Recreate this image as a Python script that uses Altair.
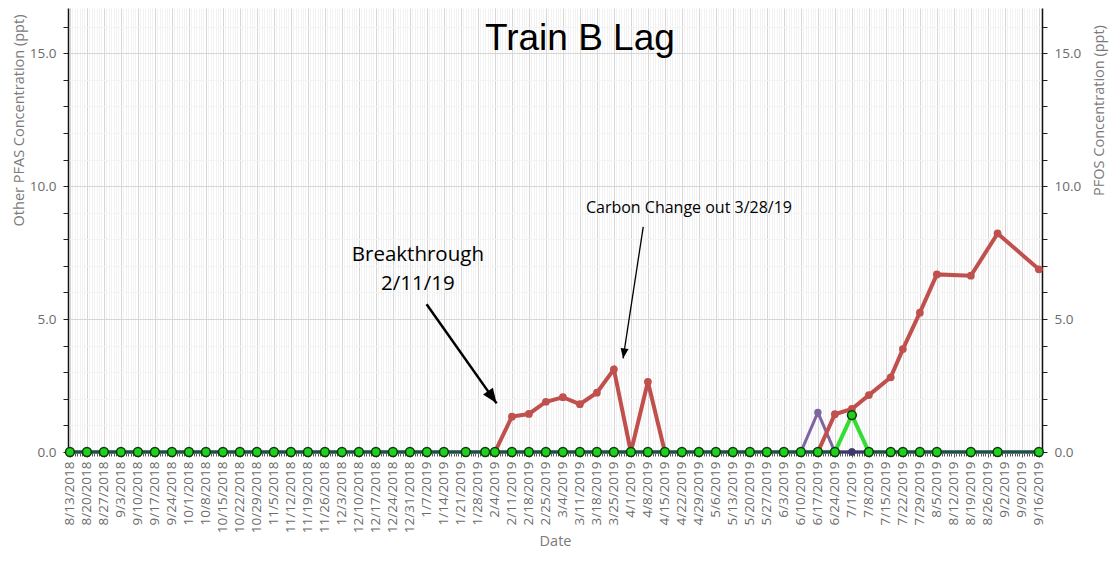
import altair as alt
import pandas as pd

# ---------------- data ----------------
tick_labels = ["8/13/2018", "8/20/2018", "8/27/2018", "9/3/2018", "9/10/2018", "9/17/2018",
               "9/24/2018", "10/1/2018", "10/8/2018", "10/15/2018", "10/22/2018", "10/29/2018",
               "11/5/2018", "11/12/2018", "11/19/2018", "11/26/2018", "12/3/2018", "12/10/2018",
               "12/17/2018", "12/24/2018", "12/31/2018", "1/7/2019", "1/14/2019", "1/21/2019",
               "1/28/2019", "2/4/2019", "2/11/2019", "2/18/2019", "2/25/2019", "3/4/2019",
               "3/11/2019", "3/18/2019", "3/25/2019", "4/1/2019", "4/8/2019", "4/15/2019",
               "4/22/2019", "4/29/2019", "5/6/2019", "5/13/2019", "5/20/2019", "5/27/2019",
               "6/3/2019", "6/10/2019", "6/17/2019", "6/24/2019", "7/1/2019", "7/8/2019",
               "7/15/2019", "7/22/2019", "7/29/2019", "8/5/2019", "8/12/2019", "8/19/2019",
               "8/26/2019", "9/2/2019", "9/9/2019", "9/16/2019"]

sample_dates = ["2018-08-13", "2018-08-20", "2018-08-27", "2018-09-03", "2018-09-10", "2018-09-17",
                "2018-09-24", "2018-10-01", "2018-10-08", "2018-10-15", "2018-10-22", "2018-10-29",
                "2018-11-05", "2018-11-12", "2018-11-19", "2018-11-26", "2018-12-03", "2018-12-10",
                "2018-12-17", "2018-12-24", "2018-12-31", "2019-01-07", "2019-01-14", "2019-01-23",
                "2019-01-31", "2019-02-04", "2019-02-11", "2019-02-18", "2019-02-25", "2019-03-04",
                "2019-03-11", "2019-03-18", "2019-03-25", "2019-04-01", "2019-04-08", "2019-04-15",
                "2019-04-22", "2019-04-29", "2019-05-06", "2019-05-13", "2019-05-20", "2019-05-27",
                "2019-06-03", "2019-06-10", "2019-06-17", "2019-06-24", "2019-07-01", "2019-07-08",
                "2019-07-17", "2019-07-22", "2019-07-29", "2019-08-05", "2019-08-19", "2019-08-30",
                "2019-09-16"]

# Other PFAS (red)
other_pfas_red = [0, 0, 0, 0, 0, 0, 0, 0, 0, 0, 0, 0, 0, 0, 0, 0, 0, 0, 0, 0, 0, 0, 0, 0, 0, 0,
                  1.33, 1.43, 1.89, 2.06, 1.80, 2.23, 3.11, 0, 2.64, 0,
                  0, 0, 0, 0, 0, 0, 0, 0, 0,
                  1.42, 1.62, 2.14, 2.81, 3.87, 5.24, 6.68, 6.63, 8.22, 6.87]
# Other PFAS (purple)
other_pfas_purple = [0, 0, 0, 0, 0, 0, 0, 0, 0, 0, 0, 0, 0, 0, 0, 0, 0, 0, 0, 0, 0, 0, 0, 0, 0, 0,
                     0, 0, 0, 0, 0, 0, 0, 0, 0, 0,
                     0, 0, 0, 0, 0, 0, 0, 0, 1.49,
                     0, 0, 0, 0, 0, 0, 0, 0, 0, 0]
# Other PFAS (dark)
other_pfas_dark = [0, 0, 0, 0, 0, 0, 0, 0, 0, 0, 0, 0, 0, 0, 0, 0, 0, 0, 0, 0, 0, 0, 0, 0, 0, 0,
                   0, 0, 0, 0, 0, 0, 0, 0, 0, 0,
                   0, 0, 0, 0, 0, 0, 0, 0, 0,
                   0, 0, 0, 0, 0, 0, 0, 0, 0, 0]
# PFOS (green)
pfos_green = [0, 0, 0, 0, 0, 0, 0, 0, 0, 0, 0, 0, 0, 0, 0, 0, 0, 0, 0, 0, 0, 0, 0, 0, 0, 0,
              0, 0, 0, 0, 0, 0, 0, 0, 0, 0,
              0, 0, 0, 0, 0, 0, 0, 0, 0,
              0, 1.39, 0, 0, 0, 0, 0, 0, 0, 0]

y_tick_values = [0, 1, 2, 3, 4, 5, 6, 7, 8, 9, 10, 11, 12, 13, 14, 15, 16]

# title and annotations (in data units)
title_text = ["Train B Lag"]
title_date = ["2019-03-11T00:00:00"]
title_value = [15.11]

note_text = ["Breakthrough\n2/11/19", "Carbon Change out 3/28/19"]
note_date = ["2019-01-03T07:00:00", "2019-04-24T22:00:00"]
note_value = [7.18, 8.98]

arrow_start_date = ["2019-01-06T21:00:00", "2019-04-06T02:00:00"]
arrow_start_value = [5.56, 8.47]
arrow_end_date = ["2019-02-04T17:00:00", "2019-03-28T19:00:00"]
arrow_end_value = [1.83, 3.52]
arrow_angle = [144.8, 188.6]

# ---------------- build ----------------
dates = pd.to_datetime(sample_dates)


def sdf(vals):
    return pd.DataFrame({"date": dates, "value": vals})


def to_dt(label):
    m, d, y = [int(p) for p in label.split("/")]
    return alt.DateTime(year=y, month=m, date=d)


label_values = [to_dt(t) for t in tick_labels]

x_scale = alt.Scale(domain=[alt.DateTime(year=2018, month=8, date=12, hours=5),
                            alt.DateTime(year=2019, month=9, date=17, hours=7)])
y_scale = alt.Scale(domain=[0, 16.7], nice=False, zero=False)

LABEL_C = "#6b6b6b"
TITLE_C = "#7a7a7a"
FONT = "Open Sans"

minor_x_axis = alt.Axis(orient="bottom", tickCount={"interval": "day", "step": 1},
                        labels=False, domain=False, ticks=True, tickSize=4, tickColor="#555555",
                        tickWidth=1, grid=True, gridColor="#f2f2f2", gridWidth=1, title=None)

major_x_axis = alt.Axis(orient="bottom", values=label_values, format="%-m/%-d/%Y",
                        formatType="time", labelAngle=270, labelOverlap=False, labelBound=False,
                        labelFlush=False, labelFont=FONT, labelFontSize=13.5, labelColor=LABEL_C,
                        labelPadding=4, tickSize=5, tickColor="#555555", domain=False,
                        grid=True, gridColor="#d6d6d6", gridWidth=1,
                        title="Date", titleFont=FONT, titleFontSize=14.5, titleFontWeight="normal",
                        titleColor=TITLE_C, titleY=89, titleBaseline="middle")

label_expr = "datum.value % 5 === 0 ? format(datum.value, '.1f') : ''"

left_axis = alt.Axis(orient="left", values=y_tick_values, labelExpr=label_expr,
                     labelFont=FONT, labelFontSize=13.5, labelColor=LABEL_C, labelPadding=7,
                     tickSize=5, tickColor="#222222", domainColor="#111111", domainWidth=1.5,
                     grid=True,
                     gridColor={"condition": {"test": "datum.value % 5 === 0", "value": "#d6d6d6"},
                                "value": "#f3f3f3"},
                     title="Other PFAS Concentration (ppt)", titleFont=FONT, titleFontSize=14.5,
                     titleFontWeight="normal", titleColor=TITLE_C, titleAngle=270,
                     titleX=-49, titleY=112, titleAlign="center", titleBaseline="middle")

right_axis = alt.Axis(orient="right", values=y_tick_values, labelExpr=label_expr,
                      labelFont=FONT, labelFontSize=13.5, labelColor=LABEL_C, labelPadding=7,
                      tickSize=5, tickColor="#222222", domainColor="#111111", domainWidth=1.5,
                      grid=False,
                      title="PFOS Concentration (ppt)", titleFont=FONT, titleFontSize=14.5,
                      titleFontWeight="normal", titleColor=TITLE_C, titleAngle=270,
                      titleX=57, titleY=102, titleAlign="center", titleBaseline="middle")

RED = "#c0504d"
PURPLE = "#8064a2"
DARK = "#3d3a6a"
GREEN = "#33dd33"


def xy(xaxis=None, yaxis=None):
    return dict(x=alt.X("date:T", scale=x_scale, axis=xaxis),
                y=alt.Y("value:Q", scale=y_scale, axis=yaxis))


purple_line = alt.Chart(sdf(other_pfas_purple)).mark_line(color=PURPLE, strokeWidth=3).encode(
    **xy(minor_x_axis, left_axis))
purple_pts = alt.Chart(sdf(other_pfas_purple)).mark_point(
    filled=True, color=PURPLE, size=55, opacity=1).encode(**xy())

red_line = alt.Chart(sdf(other_pfas_red)).mark_line(color=RED, strokeWidth=4).encode(
    **xy(major_x_axis, None))
red_pts = alt.Chart(sdf(other_pfas_red)).mark_point(
    filled=True, color=RED, size=60, opacity=1).encode(**xy())

dark_line = alt.Chart(sdf(other_pfas_dark)).mark_line(color=DARK, strokeWidth=3).encode(**xy())
dark_pts = alt.Chart(sdf(other_pfas_dark)).mark_point(
    filled=True, color=DARK, size=55, opacity=1).encode(**xy())

green_line = alt.Chart(sdf(pfos_green)).mark_line(color=GREEN, strokeWidth=4).encode(
    **xy(None, right_axis))
green_pts = alt.Chart(sdf(pfos_green)).mark_point(
    filled=True, fill="#1fd01f", stroke="#0b3b0b", strokeWidth=1.5, size=78, opacity=1
).encode(**xy())

titles = pd.DataFrame({"date": pd.to_datetime(title_date), "value": title_value,
                       "text": title_text})
notes = pd.DataFrame({"date": pd.to_datetime(note_date), "value": note_value, "text": note_text})
arrows = pd.DataFrame({"date": pd.to_datetime(arrow_start_date), "value": arrow_start_value,
                       "date2": pd.to_datetime(arrow_end_date), "value2": arrow_end_value,
                       "angle": arrow_angle, "which": ["big", "small"]})

arrow_lines = alt.Chart(arrows).mark_rule(color="black").encode(
    x=alt.X("date:T", scale=x_scale, axis=None),
    y=alt.Y("value:Q", scale=y_scale, axis=None),
    x2="date2:T", y2="value2:Q",
    strokeWidth=alt.StrokeWidth("which:N", scale=alt.Scale(domain=["big", "small"], range=[2.5, 1.3]),
                                legend=None))

arrow_heads = alt.Chart(arrows).mark_point(
    shape="M0,0L0.8,2L-0.8,2Z", filled=True, color="black", opacity=1).encode(
    x=alt.X("date2:T", scale=x_scale, axis=None),
    y=alt.Y("value2:Q", scale=y_scale, axis=None),
    angle=alt.Angle("angle:Q", scale=None),
    size=alt.Size("which:N", scale=alt.Scale(domain=["big", "small"], range=[225, 100]), legend=None))

title_mark = alt.Chart(titles).mark_text(
    font="Liberation Sans", fontSize=37, color="black", align="center",
    baseline="alphabetic").encode(text="text:N", **xy())
note1 = alt.Chart(notes.iloc[[0]]).mark_text(
    font=FONT, fontSize=20.5, color="black", align="center", baseline="alphabetic",
    lineBreak="\n", lineHeight=29).encode(text="text:N", **xy())
note2 = alt.Chart(notes.iloc[[1]]).mark_text(
    font=FONT, fontSize=16, color="black", align="center", baseline="alphabetic").encode(
    text="text:N", **xy())

chart = alt.layer(
    purple_line, red_line, green_line,
    purple_pts, red_pts, dark_line, dark_pts, green_pts,
    arrow_lines, arrow_heads, title_mark, note1, note2
).resolve_axis(x="independent", y="independent").properties(
    width=974, height=444,
    padding={"left": 60, "top": 0, "right": 68, "bottom": 98},
    autosize=alt.AutoSizeParams(type="none"),
    background="white"
).configure_view(strokeWidth=0)

chart.save("out.html", embed_options={"renderer": "svg", "actions": False})
